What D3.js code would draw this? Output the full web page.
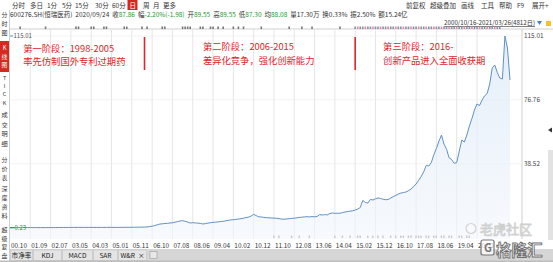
<!DOCTYPE html>
<html><head><meta charset="utf-8">
<script src="https://cdn.jsdelivr.net/npm/d3@7"></script>
<style>
html,body{margin:0;padding:0;background:#fff;overflow:hidden}
svg{display:block;font-family:"Noto Sans CJK SC","Noto Sans",sans-serif}
</style></head><body>
<svg id="c" width="553" height="262"></svg>
<script>
// ---- data (forward-adjusted close, equally spaced samples 2000/10/16 - 2021/03/26) ----
const prices = [
 0.23,0.26,0.28,0.30,0.29,0.31,0.33,0.32,0.30,0.29,
 0.31,0.30,0.28,0.27,0.29,0.30,0.31,0.33,0.32,0.34,
 0.36,0.35,0.37,0.39,0.41,0.40,0.42,0.44,0.43,0.41,
 0.40,0.42,0.41,0.39,0.38,0.40,0.42,0.41,0.43,0.45,
 0.44,0.42,0.40,0.41,0.43,0.45,0.47,0.46,0.48,0.50,
 0.53,0.56,0.58,0.62,0.68,0.89,1.13,1.49,1.97,2.39,
 2.57,2.74,2.86,3.04,3.16,3.52,3.88,4.24,4.42,4.06,
 3.64,3.04,3.22,3.10,2.98,2.80,2.45,2.68,2.98,3.22,
 3.40,3.58,3.70,3.88,4.06,4.36,4.66,4.90,5.02,5.20,
 5.38,5.62,5.92,6.28,6.58,7.23,8.19,7.47,6.76,6.64,
 6.40,6.22,6.16,6.04,5.98,5.86,5.62,5.38,5.32,5.50,
 5.62,5.80,5.92,6.16,6.40,6.52,6.70,6.82,6.70,6.88,
 6.76,6.94,8.07,7.83,8.07,7.89,8.67,9.09,8.79,8.91,
 8.85,9.27,9.63,9.87,10.11,10.35,10.83,11.37,12.32,16.57,
 15.32,15.00,17.17,16.81,17.53,18.07,17.71,17.29,16.99,17.11,
 17.95,18.85,19.57,20.41,20.95,21.30,21.60,22.38,23.34,24.78,
 26.39,28.61,30.82,33.70,37.59,37.20,39.20,43.93,47.71,52.00,
 55.70,50.28,47.23,42.08,41.06,38.79,39.20,45.97,52.74,51.54,
 55.73,61.12,65.61,70.70,74.29,73.39,76.68,79.20,80.58,86.27,
 95.85,97.64,93.15,89.86,89.26,115.01,107.82,88.66
];
const tickLabels = ["00.10","01.09","02.07","03.05","04.03","05.01","05.11","06.10","07.08","08.06",
  "09.04","10.02","10.12","11.10","12.08","13.06","14.04","15.02","15.12","16.10","17.08","18.06","19.04","20.02"];
const samplesPerTick = 8;
const axisValues = [115.01, 76.76, 38.52];
const minValue = 0.23, maxValue = 115.01;
const stageTitles = ["第一阶段：1998-2005","第二阶段：2006-2015","第三阶段：2016-"];
const stageNotes = ["率先仿制国外专利过期药","差异化竞争，强化创新能力","创新产品进入全面收获期"];
const stageStartIdx = [5, 76, 147];
const dividerIdx = [53, 136];
const topEventIdx = [4,14,26,27,32,33,37,38,45,46,52,54,60,61,68,69,70,71,75,76,79,80,82,84,88,90,92,99,110,115,119,130,136,137,138,139,140,141,142,143,144,145,146,147,148,149,150,151,152,153,154,155,156,157,158,159,160,161,162,163,164,165,166,167,168,169,170,171,172,173,174,175,176,177,178,179,180,181,182,183,184,185,186,187,188,189,190,191,192,193];
const bottomEventIdx = [104,106,111,114,118,128,131,134,137,138,141,143,145,147,150,152,154,155,157,158,160,161,162,164,165,167,168,170,171,173,174,177,178,180,181];

const svg = d3.select("#c");
const W = 553, H = 262;
const plotL = 10, plotR = 522, plotT = 29, plotB = 239;
const x = d3.scaleLinear().domain([0, prices.length - 1]).range([10, 510]);
const y = d3.scaleLinear().domain([minValue, maxValue]).range([227.7, 36]);

// ---------- header ----------
const hdr = svg.append("g").attr("font-size", 6.5).attr("fill", "#333");
const tb = ["分时","多日","1分","5分","15分","30分","60分","日","周","月","更多"];
const tbx = [12,30,47,62,75,95,112,129.5,143,153,163];
tb.forEach((t,i)=>{
  if (t === "日") {
    hdr.append("rect").attr("x",127.5).attr("y",0).attr("width",10).attr("height",10).attr("fill","#d7261e");
    hdr.append("text").attr("x",tbx[i]).attr("y",7.8).attr("fill","#fff").text(t);
  } else hdr.append("text").attr("x",tbx[i]).attr("y",7.8).text(t);
});
const rt = [["前复权",406],["超级叠加",430],["画线",461],["工具",481],["帮助",499],["F9",517],["展开+",532]];
rt.forEach(d=>hdr.append("text").attr("x",d[1]).attr("y",7.8).text(d[0]));

const row2 = hdr.append("text").attr("x",10).attr("y",17).attr("font-size",6.5).attr("style","white-space:pre");
const green = "#199a2c";
[["600276.SH(恒瑞医药)  2020/09/24  收","#333"],["87.86",green],["  幅","#333"],["-2.20%(-1.98)",green],
 ["  开","#333"],["89.55",green],["  高","#333"],["89.55",green],["  低","#333"],["87.30",green],["  均","#333"],["88.08",green],
 ["  量17.30万  换0.33%  振2.50%  额15.24亿","#333"]].forEach(d=>{
  row2.append("tspan").attr("fill",d[1]).text(d[0]);
});
hdr.append("text").attr("x",535).attr("y",25).attr("text-anchor","end").attr("font-size",6.2)
  .attr("text-decoration","underline").text("2000/10/16-2021/03/26(4812日)");
hdr.append("path").attr("d","M537,21 L542,21 L539.5,25 Z").attr("fill","#3d7fd1");
hdr.append("rect").attr("x",546).attr("y",21).attr("width",5).attr("height",5).attr("fill","#f2c230");

// ---------- sidebar ----------
const side = svg.append("g").attr("fill","#333").attr("text-anchor","middle");
side.append("line").attr("x1",9.5).attr("x2",9.5).attr("y1",10).attr("y2",262).attr("stroke","#cfcfcf");
side.append("rect").attr("x",0).attr("y",41).attr("width",9).attr("height",31).attr("fill","#d42a20");
const sideGroups = [["分时图",17,9,6],["K线图",50,8.5,5.8],["TICK",80,8.2,5.4],["成交明细",117,9.6,6.2],["分价表",162,8.8,6],["深度资料",191,9,6],["超级复盘",232,8.7,5.9]];
sideGroups.forEach(g=>{
  [...g[0]].forEach((ch,i)=>side.append("text").attr("x",4.5).attr("y",g[1]+i*g[2]).attr("font-size",g[3])
    .attr("fill", g[0]==="K线图" ? "#fff" : "#333").text(ch));
});

// ---------- plot frame & grid ----------
const plot = svg.append("g");
plot.append("line").attr("x1",plotL).attr("x2",W).attr("y1",plotT).attr("y2",plotT).attr("stroke","#cfcfcf");
plot.append("line").attr("x1",plotR).attr("x2",plotR).attr("y1",plotT).attr("y2",plotB).attr("stroke","#cfcfcf");
axisValues.forEach(v=>plot.append("line").attr("x1",plotL).attr("x2",plotR).attr("y1",y(v)).attr("y2",y(v)).attr("stroke","#f3f3f3"));
tickLabels.forEach((t,i)=>{
  const xi = x(i*samplesPerTick);
  if (i>0) plot.append("line").attr("x1",xi).attr("x2",xi).attr("y1",plotT).attr("y2",plotB).attr("stroke","#e6e6e6");
  plot.append("text").attr("x",xi+1).attr("y",247.5).attr("font-size",6.4).attr("fill","#333").text(t);
});
// right axis
axisValues.forEach(v=>plot.append("text").attr("x",524).attr("y",y(v)+2.3).attr("font-size",6.4).attr("fill","#444").text(v.toFixed(2)));
// scroll strip
plot.append("rect").attr("x",548).attr("y",150).attr("width",5).attr("height",90).attr("fill","#e2e2e2");
plot.append("path").attr("d","M548,130 L552,127.5 L552,132.5 Z").attr("fill","#333");

// event marks
topEventIdx.forEach((d,i)=>plot.append("rect").attr("x",x(d)-0.8).attr("y",plotT-2.5).attr("width",1.6).attr("height",2.5)
  .attr("fill", d>=136 ? (i%3===0 ? "#e08a9a" : "#8a8fa8") : "#777"));
bottomEventIdx.forEach((d,i)=>plot.append("rect").attr("x",x(d)-0.8).attr("y",235.5).attr("width",1.4).attr("height",2.5).attr("fill","#888"));

// ---------- area + line ----------
const defs = svg.append("defs");
const grad = defs.append("linearGradient").attr("id","fillg").attr("x1",0).attr("x2",0).attr("y1",0).attr("y2",1);
grad.append("stop").attr("offset","0%").attr("stop-color","#dbe8f6").attr("stop-opacity",0.75);
grad.append("stop").attr("offset","100%").attr("stop-color","#f1f6fc").attr("stop-opacity",0.6);
const area = d3.area().x((d,i)=>x(i)).y0(plotB).y1(d=>y(d));
plot.append("path").datum(prices).attr("d",area).attr("fill","url(#fillg)");
const line = d3.line().x((d,i)=>x(i)).y(d=>y(d));
plot.append("path").datum(prices).attr("d",line).attr("fill","none").attr("stroke","#6090c6").attr("stroke-width",1);

// min / max markers
plot.append("line").attr("x1",10).attr("x2",14).attr("y1",y(minValue)).attr("y2",y(minValue)).attr("stroke",green);
plot.append("text").attr("x",14.5).attr("y",y(minValue)+2).attr("font-size",6).attr("fill",green).text(minValue.toFixed(2));
plot.append("line").attr("x1",10).attr("x2",13).attr("y1",y(maxValue)).attr("y2",y(maxValue)).attr("stroke","#3aa0b8");
plot.append("text").attr("x",13.5).attr("y",y(maxValue)+2).attr("font-size",6).attr("fill","#555").text(maxValue.toFixed(2));

// ---------- stage annotations ----------
const red = "#e0242b";
stageTitles.forEach((t,i)=>{
  const sx = x(stageStartIdx[i]) + (i===0 ? 0.5 : 0);
  const ty = i===0 ? 51.5 : 50;
  svg.append("text").attr("x",sx).attr("y",ty).attr("font-size",9.3).attr("fill",red).text(t);
  svg.append("text").attr("x",sx).attr("y",ty+13.5).attr("font-size",9.3).attr("fill",red).text(stageNotes[i]);
});
dividerIdx.forEach(d=>svg.append("line").attr("x1",x(d)).attr("x2",x(d)).attr("y1",37).attr("y2",70)
  .attr("stroke",red).attr("stroke-width",1.6));

// ---------- bottom tab bar ----------
const bar = svg.append("g").attr("font-size",6.6).attr("fill","#222");
bar.append("rect").attr("x",10).attr("y",249).attr("width",543).attr("height",13).attr("fill","#d6d6d6");
const tabs = [["市净率",10,23],["KDJ",33,29],["MACD",62,31],["SAR",93,25],["W&R  ×",118,29]];
tabs.forEach(t=>{
  bar.append("rect").attr("x",t[1]+0.5).attr("y",250).attr("width",t[2]-1).attr("height",10.5).attr("fill","#e4e4e4").attr("stroke","#c4c4c4").attr("stroke-width",0.6);
  bar.append("text").attr("x",t[1]+t[2]/2).attr("y",258).attr("text-anchor","middle").attr("style","white-space:pre").text(t[0]);
});
bar.append("rect").attr("x",150).attr("y",251.5).attr("width",7).attr("height",7).attr("fill","#e8e8e8").attr("stroke","#999").attr("stroke-width",0.6);
bar.append("rect").attr("x",0).attr("y",260.5).attr("width",553).attr("height",1.5).attr("fill","#bdbdbd");

// ---------- watermark ----------
const wm = svg.append("g");
wm.append("circle").attr("cx",471).attr("cy",228.5).attr("r",5).attr("fill","none").attr("stroke","#d2d2d2").attr("stroke-width",1.2);
wm.append("text").attr("x",480).attr("y",233.5).attr("font-size",13).attr("fill","#fff").attr("stroke","#cfcfcf").attr("stroke-width",0.8).text("老虎社区");
wm.append("rect").attr("x",481).attr("y",240).attr("width",13).attr("height",15).attr("rx",2).attr("fill","#fff").attr("fill-opacity",0.7).attr("stroke","#777").attr("stroke-width",1.2);
wm.append("text").attr("x",484).attr("y",252).attr("font-size",11).attr("font-weight","bold").attr("fill","#777").text("G");
wm.append("text").attr("x",496).attr("y",255.5).attr("font-size",15.5).attr("font-weight","bold").attr("fill","#fff").attr("stroke","#6f6f6f").attr("stroke-width",0.9).text("格隆汇");
</script>
</body></html>
